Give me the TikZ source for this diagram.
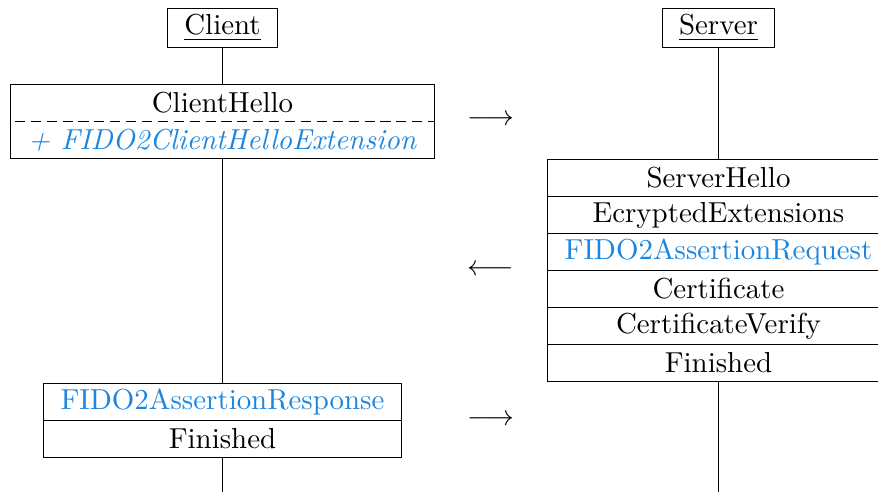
\documentclass[tikz,border=0pt]{standalone}
\usetikzlibrary{positioning}
\definecolor{fidoblue}{RGB}{28,134,222}
\newcommand{\pxu}{0.346pt}
\begin{document}
\begin{tikzpicture}[x=0.346pt, y=-0.346pt, line width=0.4pt,
  actor/.style={draw, inner sep=0pt, outer sep=0pt, minimum height={39*\pxu}},
  msgcell/.style={draw, inner sep=0pt, outer sep=0pt, minimum width={342*\pxu}, minimum height={37*\pxu}},
  plaincell/.style={inner sep=0pt, outer sep=0pt, minimum height={37*\pxu}},
  fido/.style={text=fidoblue}]
\useasboundingbox (0,0) rectangle (878,492);
\clip (0,0) rectangle (878,492);

% participants
\node[actor, minimum width={110*\pxu}] (client) at (222.5,28) {\underline{Client}};
\node[actor, minimum width={112*\pxu}] (server) at (718.5,28) {\underline{Server}};

% ClientHello with its extension
\node[plaincell, minimum width={424*\pxu}] (chtop) at (222.5,103) {ClientHello};
\node[plaincell, minimum width={424*\pxu}, fido] (chbot) at (222.5,140) {\textit{+ FIDO2ClientHelloExtension}};
\draw (chtop.north west) rectangle (chbot.south east);
\draw[dash pattern=on 3.5pt off 2pt, dash phase=-1.5pt] (chtop.south west) -- (chtop.south east);

% server flight
\node[msgcell] (sh) at (718.5,178) {ServerHello};
\node[msgcell, below=0pt of sh] (ee) {EcryptedExtensions};
\node[msgcell, below=0pt of ee, fido] (far) {FIDO2AssertionRequest};
\node[msgcell, below=0pt of far] (cert) {Certificate};
\node[msgcell, below=0pt of cert] (cv) {CertificateVerify};
\node[msgcell, below=0pt of cv] (sfin) {Finished};

% client second flight
\node[msgcell, minimum width={358*\pxu}, fido] (resp) at (222.5,402) {FIDO2AssertionResponse};
\node[msgcell, minimum width={358*\pxu}, below=0pt of resp] (cfin) {Finished};

% direction marks
\node (a1) at (491,120) {$\longrightarrow$};
\node (a2) at (491,270) {$\longleftarrow$};
\node (a3) at (491,420) {$\longrightarrow$};

% lifelines
\coordinate (cend) at (222.5,492);
\coordinate (send) at (718.5,492);
\draw (client.south) -- (chtop.north);
\draw (chbot.south) -- (resp.north);
\draw (cfin.south) -- (cend);
\draw (server.south) -- (sh.north);
\draw (sfin.south) -- (send);
\end{tikzpicture}
\end{document}
